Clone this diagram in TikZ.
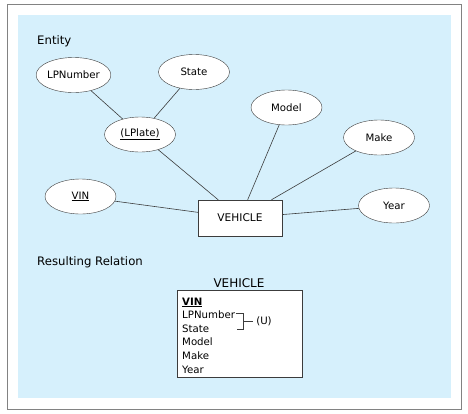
\documentclass[tikz,border=0pt]{standalone}
\usepackage{fontspec}
\setmainfont{DejaVu Sans}
\usetikzlibrary{shapes.geometric}
\definecolor{bgblue}{RGB}{214,240,252}
\definecolor{edgegray}{RGB}{60,60,60}
\definecolor{framegray}{RGB}{130,130,130}

\begin{document}
\begin{tikzpicture}[x=1pt,y=-1pt,
	attr/.style={ellipse,draw=edgegray,fill=white,minimum width=71pt,minimum height=35pt,inner sep=0pt,font=\fontsize{10.2}{12}\selectfont},
	entity/.style={rectangle,draw=edgegray,fill=white,minimum width=84pt,minimum height=36pt,font=\fontsize{10.6}{12}\selectfont},
	link/.style={draw=edgegray,line width=.6pt},
	heading/.style={anchor=west,inner sep=0pt,font=\fontsize{11.7}{14}\selectfont},
	row/.style={anchor=base west,inner sep=0pt,font=\fontsize{10.2}{12}\selectfont}]
	\useasboundingbox (0,0) rectangle (468,413);
	\draw[framegray,fill=white,line width=.8pt] (7,4) rectangle (461,409);
	\fill[bgblue] (17.7,15) rectangle (450.7,398.3);

	\node[heading] (enttitle) at (37,41) {Entity};
	\node[entity] (veh) at (240,218) {VEHICLE};
	\node[attr] (lpnum) at (73.5,75) {LPNumber};
	\node[attr] (state) at (194,72) {State};
	\node[attr] (lplate) at (140,134.5) {\underline{(LPlate)}};
	\node[attr] (model) at (286.5,107.5) {Model};
	\node[attr] (make) at (379,137.5) {Make};
	\node[attr] (vin) at (80.5,196.5) {\underline{VIN}};
	\node[attr] (year) at (394,205.5) {Year};

	\draw[link] (lpnum) -- (lplate);
	\draw[link] (state) -- (lplate);
	\draw[link] (lplate) -- (veh);
	\draw[link] (model) -- (veh);
	\draw[link] (make) -- (veh);
	\draw[link] (vin) -- (veh);
	\draw[link] (year) -- (veh);

	\node[heading] (reltitle) at (37,262) {Resulting Relation};
	\node[font=\fontsize{12}{14}\selectfont,inner sep=0pt] (relname) at (239,283) {VEHICLE};
	\node[draw=edgegray,fill=white,line width=.6pt,minimum width=125pt,minimum height=86.6pt] (rel) at (239.5,334) {};
	\node[row] (rvin) at (182,305) {\underline{\textbf{VIN}}};
	\node[row] (rlpn) at (182,318.5) {LPNumber};
	\node[row] (rstate) at (182,332.2) {State};
	\node[row] (rmodel) at (182,345.8) {Model};
	\node[row] (rmake) at (182,359.5) {Make};
	\node[row] (ryear) at (182,373) {Year};

	\coordinate (brk) at (243.3,321.7);
	\draw[link] (235.5,313.3) -| (brk) |- (236.7,329);
	\node[font=\fontsize{10.2}{12}\selectfont,inner sep=0pt] (uniq) at (264,321.7) {(U)};
	\draw[link,shorten >=3pt] (brk) -- (uniq.west);
\end{tikzpicture}
\end{document}
